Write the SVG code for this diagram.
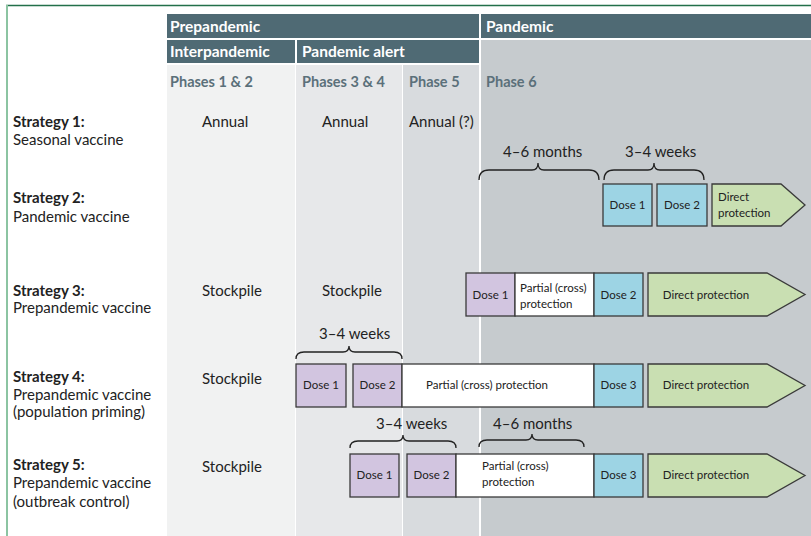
<svg xmlns="http://www.w3.org/2000/svg" width="811" height="536" viewBox="0 0 811 536">
<style>
text{font-family:Lato,"Liberation Sans",sans-serif;fill:#222}
.hd{font-size:15.5px;font-weight:bold;fill:#fff}
.ph{font-size:14.5px;font-weight:bold;fill:#5b707a}
.sb{font-size:15px;font-weight:bold}
.sn{font-size:15px}
.cl{font-size:15px}
.bx{font-size:11.5px}
.br{font-size:15px}
.pu{fill:#d2c5e0;stroke:#3a3a3a;stroke-width:1.3}
.bl{fill:#9dd4e4;stroke:#3a3a3a;stroke-width:1.3}
.wh{fill:#fff;stroke:#3a3a3a;stroke-width:1.3}
.gr{fill:#c9dfb2;stroke:#3a3a3a;stroke-width:1.3}
.brace{fill:none;stroke:#222;stroke-width:1.3}
</style>
<rect width="811" height="536" fill="#fff"/>
<line x1="6" y1="5.5" x2="811" y2="5.5" stroke="#23704a" stroke-width="1.5"/>
<line x1="7" y1="5" x2="7" y2="536" stroke="#8cc4a2" stroke-width="2"/>
<g id="columns">
<rect x="167" y="65" width="128" height="471" fill="#f1f2f2"/>
<rect x="296" y="65" width="106" height="471" fill="#e7e8ea"/>
<rect x="403" y="65" width="76" height="471" fill="#d8dbde"/>
<rect x="481" y="40" width="330" height="496" fill="#c6cbce"/>
</g>
<g id="header">
<rect x="167" y="14" width="312" height="24" fill="#4f6a74"/>
<rect x="481" y="14" width="330" height="24" fill="#4f6a74"/>
<rect x="167" y="40" width="128" height="23" fill="#4f6a74"/>
<rect x="297" y="40" width="182" height="23" fill="#4f6a74"/>
<text class="hd" x="170" y="32">Prepandemic</text>
<text class="hd" x="486" y="32">Pandemic</text>
<text class="hd" x="170" y="57">Interpandemic</text>
<text class="hd" x="302" y="57">Pandemic alert</text>
<text class="ph" x="170" y="87">Phases 1 &amp; 2</text>
<text class="ph" x="302" y="87">Phases 3 &amp; 4</text>
<text class="ph" x="409" y="87">Phase 5</text>
<text class="ph" x="486" y="87">Phase 6</text>
</g>
<g id="strategy1">
<text class="sb" x="13" y="127">Strategy 1:</text>
<text class="sn" x="13" y="145">Seasonal vaccine</text>
<text class="cl" x="202" y="127">Annual</text>
<text class="cl" x="322" y="127">Annual</text>
<text class="cl" x="409" y="127">Annual (?)</text>
</g>
<g id="strategy2">
<text class="sb" x="13" y="203">Strategy 2:</text>
<text class="sn" x="13" y="222">Pandemic vaccine</text>
<rect class="bl" x="603" y="184" width="49" height="42"/>
<text class="bx" x="627.5" y="209" text-anchor="middle">Dose 1</text>
<rect class="bl" x="657" y="184" width="50" height="42"/>
<text class="bx" x="682" y="209" text-anchor="middle">Dose 2</text>
<path class="gr" d="M712,184 L781,184 L805,205 L781,226 L712,226 Z"/>
<text class="bx" x="718" y="201">Direct</text>
<text class="bx" x="718" y="217">protection</text>
</g>
<g id="strategy3">
<text class="sb" x="13" y="296">Strategy 3:</text>
<text class="sn" x="13" y="313">Prepandemic vaccine</text>
<text class="cl" x="202" y="296">Stockpile</text>
<text class="cl" x="322" y="296">Stockpile</text>
<rect class="pu" x="466" y="273" width="49" height="43"/>
<text class="bx" x="490.5" y="299" text-anchor="middle">Dose 1</text>
<rect class="wh" x="515" y="273" width="79" height="43"/>
<text class="bx" x="520" y="292">Partial (cross)</text>
<text class="bx" x="520" y="308">protection</text>
<rect class="bl" x="594" y="273" width="49" height="43"/>
<text class="bx" x="618.5" y="299" text-anchor="middle">Dose 2</text>
<path class="gr" d="M648,273 L767,273 L805,294.5 L767,316 L648,316 Z"/>
<text class="bx" x="706" y="299" text-anchor="middle">Direct protection</text>
</g>
<g id="strategy4">
<text class="sb" x="13" y="382">Strategy 4:</text>
<text class="sn" x="13" y="400">Prepandemic vaccine</text>
<text class="sn" x="13" y="417">(population priming)</text>
<text class="cl" x="202" y="384">Stockpile</text>
<rect class="pu" x="296" y="364" width="50" height="43"/>
<text class="bx" x="321" y="389" text-anchor="middle">Dose 1</text>
<rect class="pu" x="353" y="364" width="49" height="43"/>
<text class="bx" x="377.5" y="389" text-anchor="middle">Dose 2</text>
<rect class="wh" x="402" y="364" width="192" height="43"/>
<text class="bx" x="487" y="389" text-anchor="middle">Partial (cross) protection</text>
<rect class="bl" x="594" y="364" width="49" height="43"/>
<text class="bx" x="618.5" y="389" text-anchor="middle">Dose 3</text>
<path class="gr" d="M648,364 L767,364 L805,385.5 L767,407 L648,407 Z"/>
<text class="bx" x="706" y="389" text-anchor="middle">Direct protection</text>
</g>
<g id="strategy5">
<text class="sb" x="13" y="470">Strategy 5:</text>
<text class="sn" x="13" y="488">Prepandemic vaccine</text>
<text class="sn" x="13" y="507">(outbreak control)</text>
<text class="cl" x="202" y="472">Stockpile</text>
<rect class="pu" x="350" y="454" width="49" height="43"/>
<text class="bx" x="374.5" y="479" text-anchor="middle">Dose 1</text>
<rect class="pu" x="407" y="454" width="49" height="43"/>
<text class="bx" x="431.5" y="479" text-anchor="middle">Dose 2</text>
<rect class="wh" x="456" y="454" width="138" height="43"/>
<text class="bx" x="482" y="470">Partial (cross)</text>
<text class="bx" x="482" y="486">protection</text>
<rect class="bl" x="594" y="454" width="49" height="43"/>
<text class="bx" x="618.5" y="479" text-anchor="middle">Dose 3</text>
<path class="gr" d="M648,454 L767,454 L805,475.5 L767,497 L648,497 Z"/>
<text class="bx" x="706" y="479" text-anchor="middle">Direct protection</text>
</g>
<g id="braces">
<path class="brace" d="M479,180 Q479,170 489,170 L532,170 Q538,170 538,163 Q538,170 544,170 L589,170 Q599,170 599,180"/>
<text class="br" x="503" y="157">4–6 months</text>
<path class="brace" d="M604,180 Q604,170 614,170 L648,170 Q654,170 654,163 Q654,170 660,170 L694,170 Q704,170 704,180"/>
<text class="br" x="625" y="157">3–4 weeks</text>
<path class="brace" d="M296,359 Q296,352 304,352 L343,352 Q349,352 349,346 Q349,352 355,352 L394,352 Q402,352 402,359"/>
<text class="br" x="319" y="339">3–4 weeks</text>
<path class="brace" d="M350,448 Q350,441 358,441 L397,441 Q403,441 403,435 Q403,441 409,441 L448,441 Q456,441 456,448"/>
<text class="br" x="376" y="429">3–4 weeks</text>
<path class="brace" d="M479,447 Q479,440 487,440 L526,440 Q532,440 532,434 Q532,440 538,440 L576,440 Q584,440 584,447"/>
<text class="br" x="493" y="429">4–6 months</text>
</g>
</svg>
